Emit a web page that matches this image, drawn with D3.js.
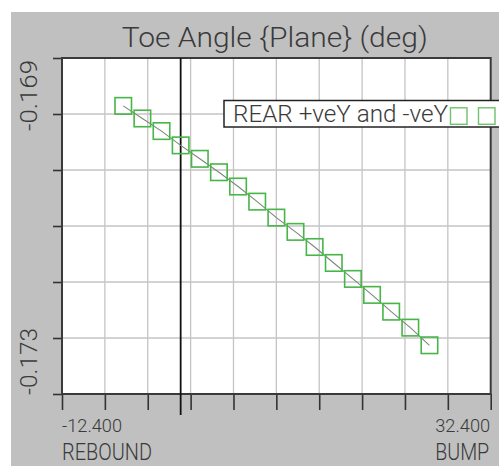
<!DOCTYPE html>
<html>
<head>
<meta charset="utf-8">
<script src="https://cdn.jsdelivr.net/npm/d3@7"></script>
<style>
  html, body { margin: 0; padding: 0; background: #ffffff; }
  svg { display: block; }
</style>
</head>
<body>
<svg id="chart" width="499" height="466"></svg>
<script>
// ---- data ----
const xValues = [-6, -4, -2, 0, 2, 4, 6, 8, 10, 12, 14, 16, 18, 20, 22, 24, 26];
const toeValues = [-0.16957, -0.16972, -0.16987, -0.17004, -0.17020, -0.17036, -0.17053, -0.17071,
                   -0.17090, -0.17107, -0.17125, -0.17144, -0.17163, -0.17182, -0.17202, -0.17221, -0.17242];
const xDomain = [-12.4, 32.4];
const yDomain = [-0.169, -0.173];
const xTickLabels = ["-12.400", "32.400"];
const yTickLabels = ["-0.169", "-0.173"];
const xEndLabels = ["REBOUND", "BUMP"];
const titleText = "Toe Angle {Plane} (deg)";
const legendText = "REAR +veY and -veY";
const xDivisions = 10;
const yDivisions = 6;

// ---- layout ----
const svg = d3.select("#chart");
const L = 62, R = 490.7, T = 58, B = 394;
const FONT = "Roboto, 'DejaVu Sans', sans-serif";
const TXT = "#3a3a3a";

const x = d3.scaleLinear().domain(xDomain).range([L, R]);
const y = d3.scaleLinear().domain(yDomain).range([T, B]);

// background
svg.append("rect").attr("x", 11).attr("y", 12).attr("width", 499 - 11).attr("height", 466 - 12)
  .attr("fill", "#c0c0c0");
svg.append("rect").attr("x", L).attr("y", T).attr("width", R - L).attr("height", B - T)
  .attr("fill", "#ffffff");

const xTicks = d3.range(xDivisions + 1).map(i => xDomain[0] + i * (xDomain[1] - xDomain[0]) / xDivisions);
const yTicks = d3.range(yDivisions + 1).map(i => yDomain[0] + i * (yDomain[1] - yDomain[0]) / yDivisions);

// grid
svg.append("g").selectAll("line").data(xTicks.slice(1, -1)).join("line")
  .attr("x1", d => x(d)).attr("x2", d => x(d)).attr("y1", T).attr("y2", B)
  .attr("stroke", "#c4c4c4").attr("stroke-width", 1.3);
svg.append("g").selectAll("line").data(yTicks.slice(1, -1)).join("line")
  .attr("x1", L).attr("x2", R).attr("y1", d => y(d)).attr("y2", d => y(d))
  .attr("stroke", "#c4c4c4").attr("stroke-width", 1.3);

// axes via d3 axis generators (ticks only)
const xAxis = d3.axisBottom(x).tickValues(xTicks).tickSize(16).tickFormat("");
const gx = svg.append("g").attr("transform", `translate(0,${B})`).call(xAxis);
gx.select(".domain").remove();
gx.selectAll("line").attr("stroke", "#333").attr("stroke-width", 1.6);

const yAxis = d3.axisLeft(y).tickValues(yTicks).tickSize(9).tickFormat("");
const gy = svg.append("g").attr("transform", `translate(${L},0)`).call(yAxis);
gy.select(".domain").remove();
gy.selectAll("line").attr("stroke", "#333").attr("stroke-width", 1.6);

// frame
svg.append("rect").attr("x", L).attr("y", T).attr("width", R - L).attr("height", B - T)
  .attr("fill", "none").attr("stroke", "#3a3a3a").attr("stroke-width", 2);

// zero line
svg.append("line").attr("x1", x(0)).attr("x2", x(0)).attr("y1", T).attr("y2", 415)
  .attr("stroke", "#111").attr("stroke-width", 1.8);

// data line + markers
const pts = xValues.map((v, i) => [v, toeValues[i]]);
svg.append("path").datum(pts)
  .attr("d", d3.line().x(d => x(d[0])).y(d => y(d[1])))
  .attr("fill", "none").attr("stroke", "#7a8a7a").attr("stroke-width", 1.1);
const S = 16.5;
svg.append("g").selectAll("rect").data(pts).join("rect")
  .attr("x", d => x(d[0]) - S / 2).attr("y", d => y(d[1]) - S / 2)
  .attr("width", S).attr("height", S)
  .attr("fill", "none").attr("stroke", "#47b547").attr("stroke-width", 1.6);

// legend
svg.append("rect").attr("x", 224).attr("y", 100.5).attr("width", 290).attr("height", 26.5)
  .attr("fill", "#ffffff").attr("stroke", "#222").attr("stroke-width", 1.5);
svg.append("text").attr("x", 233).attr("y", 122).text(legendText)
  .attr("font-family", FONT).attr("font-weight", 300).attr("font-size", 24).attr("fill", TXT)
  .attr("textLength", 215).attr("lengthAdjust", "spacingAndGlyphs");
[0, 1].forEach(i => {
  svg.append("rect").attr("x", 450.5 + i * 28).attr("y", 107.8).attr("width", 16.5).attr("height", 16.5)
    .attr("fill", "none").attr("stroke", "#6cc46c").attr("stroke-width", 1.4);
});

// title
svg.append("text").attr("x", 121.7).attr("y", 46.7).text(titleText)
  .attr("font-family", FONT).attr("font-weight", 300).attr("font-size", 27).attr("fill", TXT)
  .attr("textLength", 306).attr("lengthAdjust", "spacingAndGlyphs");

// x labels
svg.append("text").attr("x", x(xDomain[0])).attr("y", 432).text(xTickLabels[0])
  .attr("font-family", FONT).attr("font-weight", 300).attr("font-size", 19).attr("fill", TXT)
  .attr("textLength", 60).attr("lengthAdjust", "spacingAndGlyphs");
svg.append("text").attr("x", x(xDomain[1]) - 55.5).attr("y", 432).text(xTickLabels[1])
  .attr("font-family", FONT).attr("font-weight", 300).attr("font-size", 19).attr("fill", TXT)
  .attr("textLength", 55).attr("lengthAdjust", "spacingAndGlyphs");
svg.append("text").attr("x", x(xDomain[0])).attr("y", 460).text(xEndLabels[0])
  .attr("font-family", FONT).attr("font-weight", 300).attr("font-size", 23).attr("fill", TXT)
  .attr("textLength", 90).attr("lengthAdjust", "spacingAndGlyphs");
svg.append("text").attr("x", x(xDomain[1]) - 55.5).attr("y", 460).text(xEndLabels[1])
  .attr("font-family", FONT).attr("font-weight", 300).attr("font-size", 23).attr("fill", TXT)
  .attr("textLength", 54).attr("lengthAdjust", "spacingAndGlyphs");

// y labels (rotated)
svg.append("text").attr("transform", `translate(36.7,${y(yDomain[0]) + 73}) rotate(-90)`).text(yTickLabels[0])
  .attr("font-family", FONT).attr("font-weight", 300).attr("font-size", 24.5).attr("fill", TXT)
  .attr("textLength", 71).attr("lengthAdjust", "spacingAndGlyphs");
svg.append("text").attr("transform", `translate(36.7,${y(yDomain[1]) + 1}) rotate(-90)`).text(yTickLabels[1])
  .attr("font-family", FONT).attr("font-weight", 300).attr("font-size", 24.5).attr("fill", TXT)
  .attr("textLength", 67).attr("lengthAdjust", "spacingAndGlyphs");
</script>
</body>
</html>
